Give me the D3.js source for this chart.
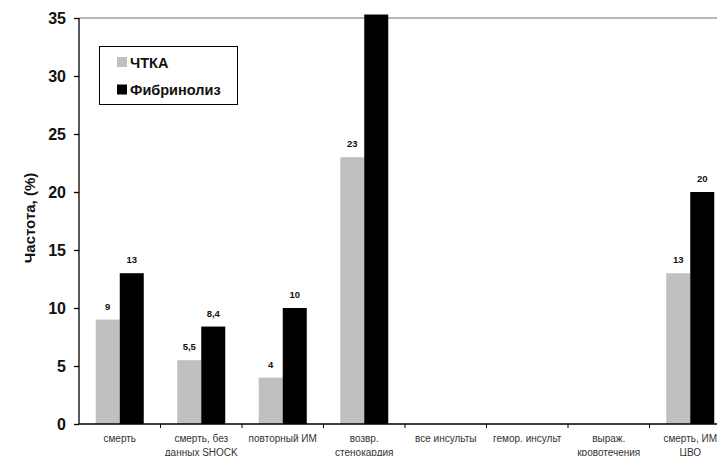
<!DOCTYPE html>
<html>
<head>
<meta charset="utf-8">
<script src="https://cdn.jsdelivr.net/npm/d3@7/dist/d3.min.js"></script>
<style>
  html, body { margin: 0; padding: 0; background: #fff; }
  svg { display: block; font-family: "Liberation Sans", Arial, sans-serif; }
</style>
</head>
<body>
<svg id="chart" width="717" height="456"></svg>
<script>
// Outcome categories (two-line labels split with "\n")
const categories = [
  "смерть",
  "смерть, без\nданных SHOCK",
  "повторный ИМ",
  "возвр.\nстенокардия",
  "все инсульты",
  "гемор. инсульт",
  "выраж.\nкровотечения",
  "смерть, ИМ\nЦВО"
];
// Event rates, %
const ptcaValues = [9, 5.5, 4, 23, 0, 0, 0, 13];
const lysisValues = [13, 8.4, 10, 35.3, 0, 0, 0, 20];
// Value labels shown above bars (null = none)
const ptcaLabels = ["9", "5,5", "4", "23", null, null, null, "13"];
const lysisLabels = ["13", "8,4", "10", null, null, null, null, "20"];
const seriesNames = ["ЧТКА", "Фибринолиз"];
const yTicks = [0, 5, 10, 15, 20, 25, 30, 35];
const yTitle = "Частота, (%)";

const colors = ["#c0c0c0", "#000000"];
const svg = d3.select("#chart");

const plotLeft = 79, plotTop = 18, plotBottom = 424, plotRight = 731;

const x = d3.scaleBand().domain(d3.range(categories.length))
  .range([plotLeft, plotRight]).paddingInner(0).paddingOuter(0);
const barW = 24;
const y = d3.scaleLinear().domain([0, 35]).range([plotBottom, plotTop]);

// Top border line at 35
svg.append("line")
  .attr("x1", plotLeft).attr("x2", 717)
  .attr("y1", y(35)).attr("y2", y(35))
  .attr("stroke", "#a0a0a0").attr("stroke-width", 1.5);

// Bars and their value labels
const series = [ptcaValues, lysisValues];
const labels = [ptcaLabels, lysisLabels];
series.forEach((vals, si) => {
  const cx = i => x(i) + x.bandwidth() / 2;
  const rows = vals.map((v, i) => ({ i, v, label: labels[si][i] }));
  svg.append("g").selectAll("rect").data(rows).join("rect")
    .attr("x", d => cx(d.i) - barW + si * barW)
    .attr("y", d => y(d.v))
    .attr("width", barW)
    .attr("height", d => y(0) - y(d.v))
    .attr("fill", colors[si]);
  svg.append("g").selectAll("text").data(rows.filter(d => d.label !== null)).join("text")
    .attr("x", d => cx(d.i) - barW / 2 + si * barW)
    .attr("y", d => y(d.v) - 10)
    .attr("text-anchor", "middle")
    .attr("font-size", 9.5).attr("font-weight", "bold").attr("fill", "#111")
    .text(d => d.label);
});

// Y axis
const yAxis = svg.append("g").attr("transform", `translate(${plotLeft},0)`)
  .call(d3.axisLeft(y).tickValues(yTicks).tickSize(5).tickPadding(8));
yAxis.select(".domain").attr("stroke", "#000").attr("stroke-width", 1.3).attr("d", `M-0,${plotBottom}V${plotTop}`);
yAxis.selectAll(".tick line").attr("stroke", "#000").attr("stroke-width", 1.3);
yAxis.selectAll(".tick text")
  .attr("font-family", "Liberation Sans, Arial, sans-serif")
  .attr("font-size", 16).attr("font-weight", "bold").attr("fill", "#111");

// X axis with ticks at category boundaries
const xAxisG = svg.append("g");
xAxisG.append("line")
  .attr("x1", plotLeft).attr("x2", 717).attr("y1", plotBottom).attr("y2", plotBottom)
  .attr("stroke", "#000").attr("stroke-width", 1.5);
xAxisG.selectAll("line.tk").data(d3.range(1, categories.length)).join("line")
  .attr("class", "tk")
  .attr("x1", i => x(i)).attr("x2", i => x(i))
  .attr("y1", plotBottom).attr("y2", plotBottom + 4)
  .attr("stroke", "#000").attr("stroke-width", 1);
const catText = xAxisG.selectAll("text").data(categories).join("text")
  .attr("x", (d, i) => x(i) + x.bandwidth() / 2)
  .attr("y", plotBottom + 18)
  .attr("text-anchor", "middle")
  .attr("font-size", 10).attr("fill", "#333");
catText.each(function(d) {
  const t = d3.select(this);
  d.split("\n").forEach((line, k) => {
    t.append("tspan").attr("x", t.attr("x")).attr("dy", k === 0 ? 0 : 13.5).text(line);
  });
});

// Y axis title
svg.append("text")
  .attr("transform", `translate(35,218) rotate(-90)`)
  .attr("text-anchor", "middle")
  .attr("font-size", 15).attr("font-weight", "bold").attr("fill", "#111")
  .text(yTitle);

// Legend
const lg = svg.append("g");
lg.append("rect").attr("x", 99.5).attr("y", 46.5).attr("width", 138).attr("height", 58)
  .attr("fill", "#fff").attr("stroke", "#000").attr("stroke-width", 1);
seriesNames.forEach((name, i) => {
  lg.append("rect").attr("x", 117).attr("y", 57 + i * 27.5).attr("width", 10).attr("height", 10)
    .attr("fill", colors[i]);
  lg.append("text").attr("x", 130).attr("y", 67.5 + i * 27)
    .attr("font-size", 14.5).attr("font-weight", "bold").attr("fill", "#111")
    .text(name);
});
</script>
</body>
</html>
